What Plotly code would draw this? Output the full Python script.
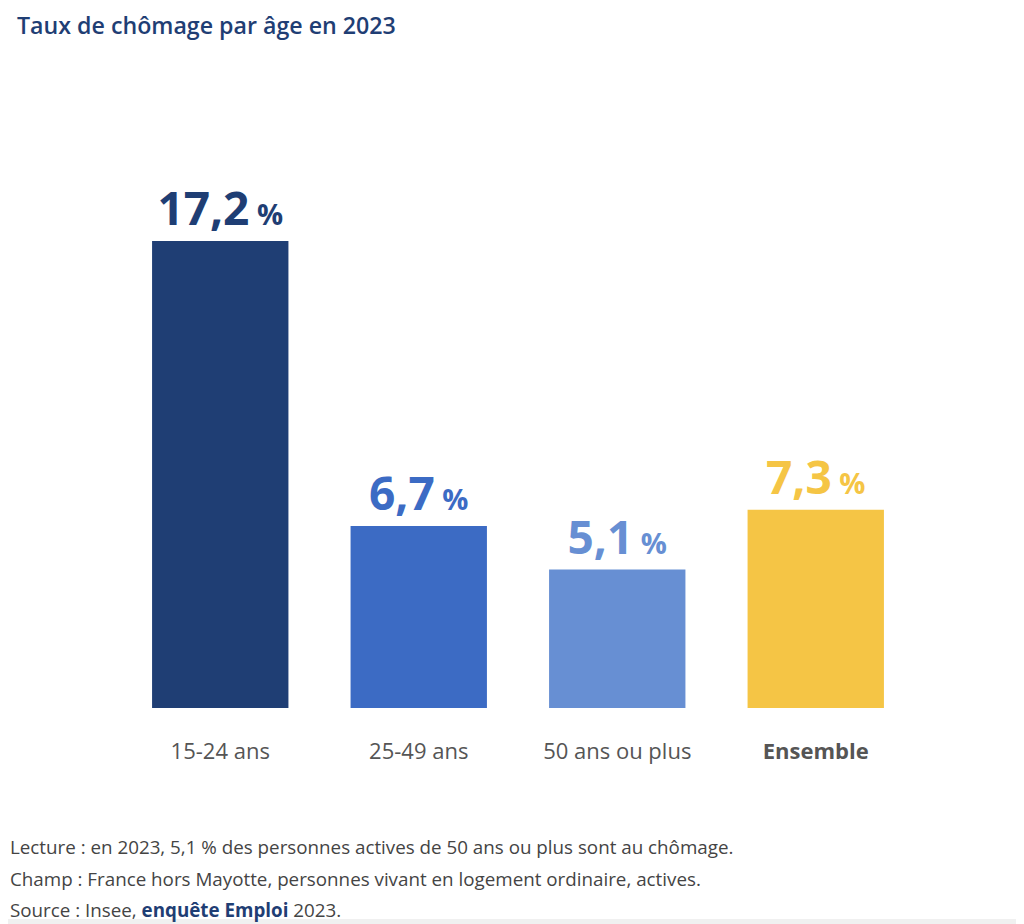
import plotly.graph_objects as go

categories = ["15-24 ans", "25-49 ans", "50 ans ou plus", "Ensemble"]
tick_labels = ["15-24 ans", "25-49 ans", "50 ans ou plus", "<b>Ensemble</b>"]
values = [17.2, 6.7, 5.1, 7.3]
value_labels = ["17,2", "6,7", "5,1", "7,3"]
colors = ["#1f3e74", "#3c6bc4", "#678fd3", "#f5c545"]

title_text = "Taux de chômage par âge en 2023"
notes = [
    "Lecture : en 2023, 5,1 % des personnes actives de 50 ans ou plus sont au chômage.",
    "Champ : France hors Mayotte, personnes vivant en logement ordinaire, actives.",
    "Source : Insee, <b><span style='color:#1f3e74'>enquête Emploi</span></b> 2023.",
]

OFF = 8  # page body margin in the browser
W, H = 1024 - OFF, 924 - OFF
ML, MT = 121 - OFF, 100 - OFF
MR = 1024 - 915
MB = 924 - 708
PH = H - MT - MB
PW = W - ML - MR

def px_x(p):
    return (p - OFF - ML) / PW

def px_y(p):
    return (924 - MB - p) / PH

texts = [f"<b>{v}</b><span style='font-size:29px'> <b>%</b></span>" for v in value_labels]

fig = go.Figure(
    go.Bar(
        x=categories,
        y=values,
        marker=dict(color=colors, line=dict(width=0)),
        text=texts,
        textposition="outside",
        textfont=dict(family="Open Sans", size=46, color=colors),
        cliponaxis=False,
        hoverinfo="skip",
    )
)

fig.update_layout(
    width=W,
    height=H,
    margin=dict(l=ML, r=MR, t=MT, b=MB),
    paper_bgcolor="white",
    plot_bgcolor="white",
    bargap=0.313,
    showlegend=False,
    font=dict(family="Open Sans", color="#555555"),
    xaxis=dict(
        tickmode="array",
        tickvals=categories,
        ticktext=tick_labels,
        tickfont=dict(family="Open Sans", size=22, color="#555555"),
        ticks="outside",
        ticklen=24,
        tickcolor="rgba(0,0,0,0)",
        showline=False,
        showgrid=False,
        zeroline=False,
    ),
    yaxis=dict(
        range=[0, PH / 27.15],
        visible=False,
        showgrid=False,
        zeroline=False,
    ),
)

fig.add_annotation(
    text=title_text,
    xref="paper", yref="paper",
    x=px_x(15), y=px_y(25),
    xanchor="left", yanchor="middle",
    showarrow=False,
    font=dict(family="Open Sans", size=23.2, color="#1f3e74", weight=600),
)

note_y = [847, 879, 910]
for t, yy in zip(notes, note_y):
    fig.add_annotation(
        text=t,
        xref="paper", yref="paper",
        x=px_x(8), y=px_y(yy),
        xanchor="left", yanchor="middle",
        showarrow=False,
        font=dict(family="Open Sans", size=18.8, color="#444444"),
    )

# light page frame strip at the bottom
fig.add_shape(type="rect", xref="paper", yref="paper",
              x0=px_x(OFF), x1=px_x(1024), y0=px_y(924), y1=px_y(919),
              fillcolor="#f0f0f0", line=dict(width=0), layer="below")

fig.write_html("out.html")
